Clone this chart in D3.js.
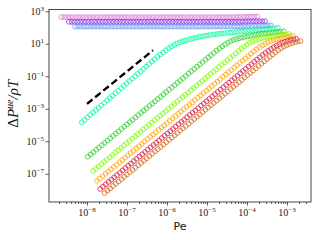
<!DOCTYPE html>
<html>
<head>
<meta charset="utf-8">
<script src="https://cdn.jsdelivr.net/npm/d3@7"></script>
<style>
body { margin: 0; background: #fff; }
svg { display: block; }
.lbl { font-family: "Liberation Serif", "DejaVu Serif", serif; font-size: 10px; fill: #222; }
</style>
</head>
<body>
<div id="chart-area"></div>
<script>
/*
*    Pe vs pressure difference, log-log
*/
var margin = {top: 9.5, right: 9, bottom: 38, left: 49};
var width = 320 - margin.left - margin.right;
var height = 240 - margin.top - margin.bottom;

// log10(Pe) offsets along each run, and the start of each run
var peGrid = [0.00,0.07,0.14,0.21,0.28,0.35,0.42,0.49,0.56,0.63,
    0.70,0.77,0.84,0.91,0.98,1.05,1.12,1.19,1.26,1.33,
    1.40,1.47,1.54,1.61,1.68,1.75,1.82,1.89,1.96,2.03,
    2.10,2.17,2.24,2.31,2.38,2.45,2.52,2.59,2.66,2.73,
    2.80,2.87,2.94,3.01,3.08,3.15,3.22,3.29,3.36,3.43,
    3.50,3.57,3.64,3.71,3.78,3.85,3.92,3.99,4.06,4.13,
    4.20,4.27,4.34,4.41,4.48,4.55,4.62,4.69,4.76,4.83,
    4.90];
var peShift = [-8.64, -8.45, -8.30, -8.13, -7.98, -7.85, -7.75, -7.67, -7.56];
var colors = ["#da70d6", "#8a2be2", "#6495ed", "#00fa9a", "#32cd32", "#7cfc00", "#ffa500", "#dc143c", "#d2691e"];

// log10(dP / rho T)
var yOrchid = [2.64,2.64,2.64,2.64,2.64,2.64,2.64,2.64,2.64,2.64,
    2.64,2.64,2.64,2.64,2.64,2.64,2.64,2.64,2.64,2.64,
    2.64,2.64,2.64,2.64,2.64,2.64,2.64,2.64,2.64,2.64,
    2.64,2.64,2.64,2.64,2.64,2.64,2.64,2.64,2.64,2.64,
    2.64,2.64,2.64,2.64,2.64,2.64,2.64,2.64,2.64,2.64,
    2.64,2.64,2.64,2.64,2.64,2.64,2.64,2.64,2.64,2.64,
    2.64,2.64,2.64,2.65,2.65,2.65,2.66,2.66,2.66,2.67,
    2.67];
var yViolet = [2.35,2.35,2.35,2.35,2.35,2.35,2.35,2.35,2.35,2.35,
    2.35,2.35,2.35,2.35,2.35,2.35,2.35,2.35,2.35,2.35,
    2.35,2.35,2.35,2.35,2.35,2.35,2.35,2.35,2.35,2.35,
    2.35,2.35,2.35,2.35,2.35,2.35,2.35,2.35,2.35,2.35,
    2.35,2.35,2.35,2.35,2.35,2.35,2.35,2.35,2.35,2.35,
    2.35,2.35,2.35,2.35,2.35,2.35,2.35,2.35,2.35,2.35,
    2.35,2.35,2.36,2.36,2.37,2.37,2.38,2.38,2.39,2.39,
    2.39];
var yBlue = [2.06,2.06,2.06,2.06,2.06,2.06,2.06,2.06,2.06,2.06,
    2.06,2.06,2.06,2.06,2.06,2.06,2.06,2.06,2.06,2.06,
    2.06,2.06,2.06,2.06,2.06,2.06,2.06,2.06,2.06,2.06,
    2.06,2.06,2.06,2.06,2.06,2.06,2.06,2.06,2.06,2.06,
    2.06,2.06,2.06,2.06,2.06,2.06,2.06,2.06,2.06,2.06,
    2.06,2.06,2.06,2.06,2.06,2.06,2.06,2.07,2.07,2.07,
    2.08,2.08,2.09,2.09,2.10,2.10,2.11,2.11,2.12,2.12,
    2.12];
var ySpring = [-3.83,-3.68,-3.53,-3.38,-3.23,-3.08,-2.94,-2.79,-2.64,-2.49,
    -2.34,-2.19,-2.04,-1.89,-1.74,-1.59,-1.44,-1.30,-1.15,-1.00,
    -0.85,-0.70,-0.55,-0.40,-0.25,-0.10,0.05,0.20,0.34,0.47,
    0.60,0.72,0.83,0.93,1.02,1.09,1.15,1.20,1.25,1.30,
    1.35,1.39,1.43,1.46,1.49,1.52,1.55,1.57,1.59,1.61,
    1.63,1.65,1.67,1.68,1.70,1.72,1.74,1.75,1.77,1.79,
    1.81,1.82,1.84,1.86,1.88,1.89,1.91,1.93,1.95,1.96,
    1.98];
var yLime = [-5.95,-5.81,-5.67,-5.52,-5.38,-5.24,-5.10,-4.96,-4.81,-4.67,
    -4.53,-4.39,-4.24,-4.10,-3.96,-3.82,-3.68,-3.53,-3.39,-3.25,
    -3.11,-2.97,-2.82,-2.68,-2.54,-2.40,-2.26,-2.11,-1.97,-1.83,
    -1.69,-1.54,-1.40,-1.26,-1.12,-0.98,-0.83,-0.69,-0.55,-0.41,
    -0.27,-0.12,0.02,0.16,0.30,0.44,0.58,0.71,0.84,0.96,
    1.07,1.16,1.23,1.29,1.34,1.38,1.42,1.45,1.49,1.52,
    1.55,1.58,1.60,1.62,1.64,1.66,1.68,1.70,1.73,1.75,
    1.77];
var yLawn = [-6.83,-6.69,-6.55,-6.40,-6.26,-6.12,-5.98,-5.84,-5.69,-5.55,
    -5.41,-5.27,-5.12,-4.98,-4.84,-4.70,-4.56,-4.41,-4.27,-4.13,
    -3.99,-3.85,-3.70,-3.56,-3.42,-3.28,-3.14,-2.99,-2.85,-2.71,
    -2.57,-2.42,-2.28,-2.14,-2.00,-1.86,-1.71,-1.57,-1.43,-1.29,
    -1.15,-1.00,-0.86,-0.72,-0.58,-0.43,-0.29,-0.15,-0.01,0.13,
    0.27,0.42,0.56,0.70,0.83,0.95,1.06,1.15,1.23,1.29,
    1.34,1.38,1.42,1.45,1.48,1.50,1.52,1.54,1.56,1.58,
    1.60];
var yOrange = [-7.43,-7.29,-7.15,-7.00,-6.86,-6.72,-6.58,-6.44,-6.29,-6.15,
    -6.01,-5.87,-5.72,-5.58,-5.44,-5.30,-5.16,-5.01,-4.87,-4.73,
    -4.59,-4.45,-4.30,-4.16,-4.02,-3.88,-3.74,-3.59,-3.45,-3.31,
    -3.17,-3.02,-2.88,-2.74,-2.60,-2.46,-2.31,-2.17,-2.03,-1.89,
    -1.75,-1.60,-1.46,-1.32,-1.18,-1.03,-0.89,-0.75,-0.61,-0.47,
    -0.32,-0.18,-0.04,0.10,0.24,0.39,0.53,0.66,0.79,0.90,
    1.00,1.09,1.16,1.23,1.28,1.32,1.36,1.40,1.43,1.46,
    1.48];
var yCrimson = [-7.93,-7.79,-7.65,-7.50,-7.36,-7.22,-7.08,-6.94,-6.79,-6.65,
    -6.51,-6.37,-6.22,-6.08,-5.94,-5.80,-5.66,-5.51,-5.37,-5.23,
    -5.09,-4.95,-4.80,-4.66,-4.52,-4.38,-4.24,-4.09,-3.95,-3.81,
    -3.67,-3.52,-3.38,-3.24,-3.10,-2.96,-2.81,-2.67,-2.53,-2.39,
    -2.25,-2.10,-1.96,-1.82,-1.68,-1.53,-1.39,-1.25,-1.11,-0.97,
    -0.82,-0.68,-0.54,-0.40,-0.26,-0.11,0.03,0.17,0.31,0.44,
    0.56,0.68,0.79,0.89,0.98,1.06,1.12,1.18,1.23,1.27,
    1.30];
var yChoc = [-8.18,-8.04,-7.90,-7.75,-7.61,-7.47,-7.33,-7.19,-7.04,-6.90,
    -6.76,-6.62,-6.47,-6.33,-6.19,-6.05,-5.91,-5.76,-5.62,-5.48,
    -5.34,-5.20,-5.05,-4.91,-4.77,-4.63,-4.49,-4.34,-4.20,-4.06,
    -3.92,-3.77,-3.63,-3.49,-3.35,-3.21,-3.06,-2.92,-2.78,-2.64,
    -2.50,-2.35,-2.21,-2.07,-1.93,-1.78,-1.64,-1.50,-1.36,-1.22,
    -1.07,-0.93,-0.79,-0.65,-0.51,-0.36,-0.22,-0.08,0.06,0.20,
    0.34,0.47,0.60,0.72,0.82,0.91,0.99,1.05,1.10,1.14,
    1.17];

// Pe^2 guide
var guideX = [-8.0, -6.35];
var guideY = [-2.7, 0.6];

var xTicks = [-8, -7, -6, -5, -4, -3];
var yTicks = [3, 1, -1, -3, -5, -7];

var svg = d3.select("#chart-area")
    .append("svg")
        .attr("width", 320)
        .attr("height", 240);

var g = svg.append("g")
    .attr("transform", "translate(" + margin.left + ", " + margin.top + ")");

var x = d3.scaleLog()
    .domain([Math.pow(10, -8.95), Math.pow(10, -2.4)])
    .range([0, width]);

var y = d3.scaleLog()
    .domain([Math.pow(10, -8.735), Math.pow(10, 3.11)])
    .range([height, 0]);

var allY = [yOrchid, yViolet, yBlue, ySpring, yLime, yLawn, yOrange, yCrimson, yChoc];
var series = allY.map((ys, k) => {
    return ys.filter((v, i) => { return i < peGrid.length; })
        .map((v, i) => { return {px: Math.pow(10, peShift[k] + peGrid[i]), py: Math.pow(10, v), c: colors[k]}; });
});

series.forEach((pts) => {
    g.append("g").selectAll("circle")
        .data(pts)
        .enter()
        .append("circle")
            .attr("cx", (d) => { return x(d.px); })
            .attr("cy", (d) => { return y(d.py); })
            .attr("r", 2.4)
            .attr("fill", "none")
            .attr("stroke", (d) => { return d.c; })
            .attr("stroke-width", 1)
            .attr("stroke-opacity", 0.75);
});

var guide = d3.line()
    .x((d) => { return x(Math.pow(10, d[0])); })
    .y((d) => { return y(Math.pow(10, d[1])); });

g.append("path")
    .datum(d3.zip(guideX, guideY))
    .attr("d", guide)
    .attr("fill", "none")
    .attr("stroke", "#000")
    .attr("stroke-width", 2.4)
    .attr("stroke-dasharray", "7,3.5");

// minor ticks on x
var minor = [];
for (var e = -9; e <= -3; e++) {
    for (var m = 2; m <= 9; m++) {
        var v = m * Math.pow(10, e);
        if (v > x.domain()[0] && v < x.domain()[1]) minor.push(v);
    }
}

var bottomAxis = d3.axisBottom(x)
    .tickValues(xTicks.map((e) => { return Math.pow(10, e); }))
    .tickSize(3.5)
    .tickFormat("");
var bottomMinor = d3.axisBottom(x).tickValues(minor).tickSize(2).tickFormat("");
var leftAxis = d3.axisLeft(y)
    .tickValues(yTicks.map((e) => { return Math.pow(10, e); }))
    .tickSize(3.5)
    .tickFormat("");

g.append("g").attr("transform", "translate(0, " + height + ")").call(bottomMinor);
g.append("g").attr("transform", "translate(0, " + height + ")").call(bottomAxis);
g.append("g").call(leftAxis);

g.selectAll(".domain").remove();
g.selectAll(".tick line").attr("stroke", "#333").attr("stroke-width", 0.8);

g.append("rect")
    .attr("width", width)
    .attr("height", height)
    .attr("fill", "none")
    .attr("stroke", "#333")
    .attr("stroke-width", 0.9);

// tick labels with superscripts
xTicks.forEach((e) => {
    var t = g.append("text")
        .attr("class", "lbl")
        .attr("x", x(Math.pow(10, e)))
        .attr("y", height + 14)
        .attr("text-anchor", "middle");
    t.append("tspan").text("10");
    t.append("tspan").attr("dy", -4).attr("font-size", "7px").text("\u2212" + (-e));
});

yTicks.forEach((e) => {
    var t = g.append("text")
        .attr("class", "lbl")
        .attr("x", -5)
        .attr("y", y(Math.pow(10, e)) + 3.5)
        .attr("text-anchor", "end");
    t.append("tspan").text("10");
    t.append("tspan").attr("dy", -4).attr("font-size", "7px").text(e < 0 ? "\u2212" + (-e) : "" + e);
});

// axis titles
g.append("text")
    .attr("x", width / 2)
    .attr("y", height + 28)
    .attr("font-family", "DejaVu Sans, sans-serif")
    .attr("font-size", "11px")
    .attr("text-anchor", "middle")
    .style("fill", "#111")
    .text("Pe");

var yl = g.append("text")
    .attr("transform", "translate(" + (-31) + ", " + (height / 2 - 2) + ") rotate(-90)")
    .attr("font-family", "Liberation Serif, DejaVu Serif, serif")
    .attr("font-size", "15px")
    .attr("font-style", "italic")
    .attr("text-anchor", "middle")
    .style("fill", "#111");
yl.append("tspan").attr("font-style", "normal").text("\u0394");
yl.append("tspan").text("P");
yl.append("tspan").attr("dy", -5).attr("font-size", "10px").text("ue");
yl.append("tspan").attr("dy", 5).text("/\u03c1T");
</script>
</body>
</html>
